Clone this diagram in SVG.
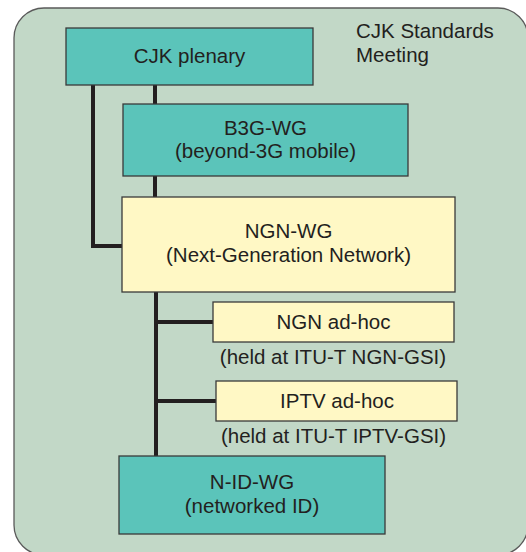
<svg xmlns="http://www.w3.org/2000/svg" width="526" height="552" viewBox="0 0 526 552">
<style>
text{font-family:"Liberation Sans",Arial,sans-serif;font-size:20.5px;fill:#231f20;}
.c{text-anchor:middle;}
.teal{fill:#5bc4ba;stroke:#3a3a3a;stroke-width:1.3;}
.yel{fill:#fff8c5;stroke:#3a3a3a;stroke-width:1.3;}
.ln{fill:none;stroke:#231f20;stroke-width:4;}
</style>
<rect x="0" y="0" width="526" height="552" fill="#ffffff"/>
<g id="container">
<rect x="14" y="8" width="514" height="547" rx="30" ry="30" fill="#c2d8c7" stroke="#5a5a5a" stroke-width="1.3"/>
<text x="356" y="38">CJK Standards</text>
<text x="356" y="62">Meeting</text>
</g>
<g id="connectors">
<polyline class="ln" points="93,85 93,246 122,246"/>
<line class="ln" x1="155" y1="85" x2="155" y2="104"/>
<line class="ln" x1="155" y1="176" x2="155" y2="197"/>
<line class="ln" x1="156" y1="292" x2="156" y2="456"/>
<line class="ln" x1="156" y1="322" x2="213" y2="322"/>
<line class="ln" x1="156" y1="401" x2="216" y2="401"/>
</g>
<g id="cjk-plenary">
<rect class="teal" x="66" y="28" width="247" height="57"/>
<text class="c" x="189.5" y="63">CJK plenary</text>
</g>
<g id="b3g-wg">
<rect class="teal" x="123" y="104" width="285" height="72"/>
<text class="c" x="265.5" y="135">B3G-WG</text>
<text class="c" x="265.5" y="158">(beyond-3G mobile)</text>
</g>
<g id="ngn-wg">
<rect class="yel" x="122" y="197" width="333" height="95"/>
<text class="c" x="288.5" y="238">NGN-WG</text>
<text class="c" x="288.5" y="262">(Next-Generation Network)</text>
</g>
<g id="ngn-adhoc">
<rect class="yel" x="213" y="302" width="241" height="40"/>
<text class="c" x="333.5" y="329">NGN ad-hoc</text>
<text class="c" x="333" y="364">(held at ITU-T NGN-GSI)</text>
</g>
<g id="iptv-adhoc">
<rect class="yel" x="216" y="381" width="241" height="40"/>
<text class="c" x="337" y="408">IPTV ad-hoc</text>
<text class="c" x="333.5" y="443">(held at ITU-T IPTV-GSI)</text>
</g>
<g id="n-id-wg">
<rect class="teal" x="119" y="456" width="266" height="78"/>
<text class="c" x="252" y="489">N-ID-WG</text>
<text class="c" x="252" y="513">(networked ID)</text>
</g>
</svg>
